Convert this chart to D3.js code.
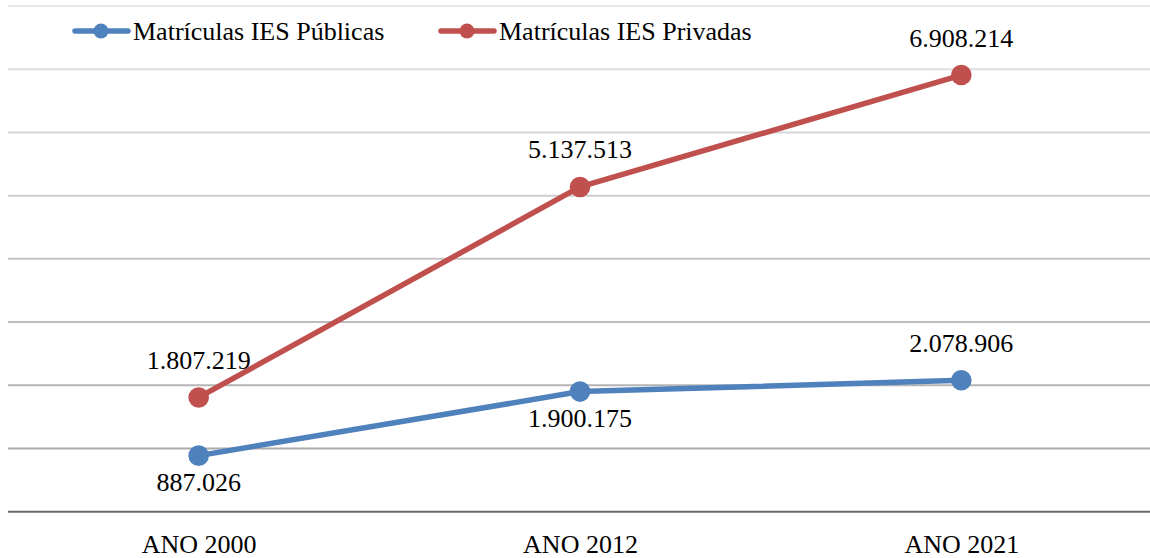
<!DOCTYPE html>
<html>
<head>
<meta charset="utf-8">
<script src="https://cdn.jsdelivr.net/npm/d3@7"></script>
<style>
  html, body { margin: 0; padding: 0; background: #fff; }
  svg { display: block; }
</style>
</head>
<body>
<svg id="chart" width="1150" height="558"></svg>
<script>
// Matrículas em IES públicas e privadas
const categories = ["ANO 2000", "ANO 2012", "ANO 2021"];
const publicas = [887026, 1900175, 2078906];
const privadas = [1807219, 5137513, 6908214];
const seriesNames = ["Matrículas IES Públicas", "Matrículas IES Privadas"];
const yTicks = [1000000, 2000000, 3000000, 4000000, 5000000, 6000000, 7000000, 8000000];
// label placement per point: true = above the marker
const publicasAbove = [false, false, true];
const privadasAbove = [true, true, true];

const FONT = "'Liberation Serif'";
const FS = 26;
const W = 1150, H = 558;
const svg = d3.select("#chart");

const x = d3.scalePoint().domain(categories).range([8, 1152]).padding(0.5);
const y = d3.scaleLinear().domain([0, 8000000]).range([511.7, 6]);

const fmt = v => d3.format(",")(v).replace(/,/g, ".");

// gridlines, shading from light at the top to darker near the base
const gridColor = d3.scaleLinear().domain([8000000, 1000000]).range(["#e6e6e6", "#acacac"]);
svg.append("g")
  .selectAll("line")
  .data(yTicks)
  .join("line")
  .attr("x1", 8).attr("x2", W)
  .attr("y1", d => y(d)).attr("y2", d => y(d))
  .attr("stroke", d => gridColor(d))
  .attr("stroke-width", 2);

// category axis
const xAxis = svg.append("g").attr("transform", `translate(0,${y(0)})`)
  .call(d3.axisBottom(x).tickSize(0).tickPadding(0));
xAxis.select(".domain").attr("stroke", "#6a6a6a").attr("stroke-width", 2)
  .attr("d", `M8,0H${W}`);
xAxis.selectAll(".tick text")
  .style("font-family", FONT)
  .style("font-size", FS + "px")
  .attr("fill", "#000")
  .attr("dy", null).attr("y", 41);

const series = [
  { name: seriesNames[0], values: publicas, color: "#4f81bd", above: publicasAbove },
  { name: seriesNames[1], values: privadas, color: "#c0504d", above: privadasAbove }
];

const line = d3.line().x((d, i) => x(categories[i])).y(d => y(d));

series.forEach(s => {
  const g = svg.append("g");
  g.append("path")
    .datum(s.values)
    .attr("d", line)
    .attr("fill", "none")
    .attr("stroke", s.color)
    .attr("stroke-width", 5.5)
    .attr("stroke-linejoin", "round")
    .attr("stroke-linecap", "round");
  g.selectAll("circle")
    .data(s.values)
    .join("circle")
    .attr("cx", (d, i) => x(categories[i]))
    .attr("cy", d => y(d))
    .attr("r", 10.3)
    .attr("fill", s.color);
  g.selectAll("text")
    .data(s.values)
    .join("text")
    .attr("x", (d, i) => x(categories[i]))
    .attr("y", (d, i) => y(d) + (s.above[i] ? -28.5 : 35.5))
    .attr("text-anchor", "middle")
    .style("font-family", FONT)
    .style("font-size", FS + "px")
    .attr("fill", "#000")
    .text(d => fmt(d));
});

// legend
const legendX = [73, 439];
series.forEach((s, i) => {
  const g = svg.append("g").attr("transform", `translate(${legendX[i]},31)`);
  g.append("line")
    .attr("x1", 2).attr("x2", 55).attr("y1", 0).attr("y2", 0)
    .attr("stroke", s.color).attr("stroke-width", 5.5).attr("stroke-linecap", "round");
  g.append("circle").attr("cx", 28).attr("cy", 0).attr("r", 7.5).attr("fill", s.color);
  g.append("text").attr("x", 60).attr("y", 8.5)
    .style("font-family", FONT).style("font-size", FS + "px").attr("fill", "#000")
    .text(s.name);
});
</script>
</body>
</html>
